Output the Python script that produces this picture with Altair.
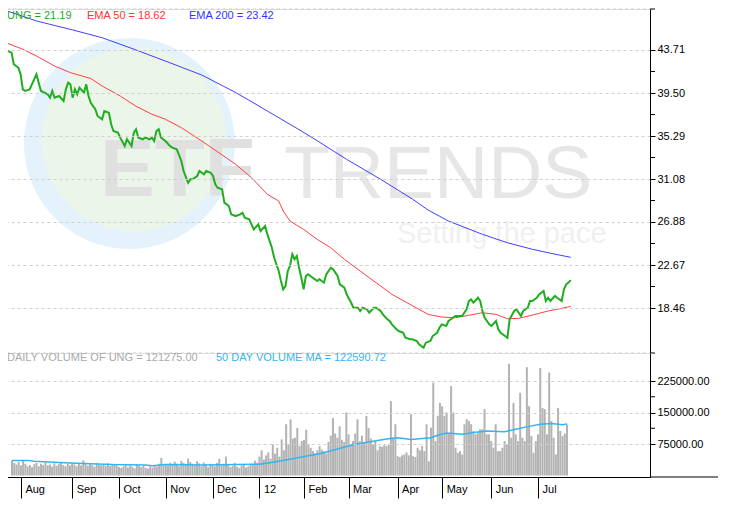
import altair as alt
import pandas as pd

# ---------------- data ----------------
# trading-day index (0 = late Jul 2011 ... 249 = ~20 Jul 2012)
price_day = [0, 2, 3, 4, 5, 6, 7, 8, 10, 11, 13, 14, 15, 18, 19, 20, 21, 23, 25, 26,
             27, 28, 29, 30, 31, 32, 34, 35, 36, 37, 39, 40, 42, 43, 45, 46, 47, 49, 50, 52,
             53, 55, 56, 57, 58, 60, 61, 63, 64, 65, 66, 67, 68, 70, 72, 73, 75, 77, 78, 80,
             81, 82, 84, 85, 87, 88, 90, 91, 92, 93, 95, 96, 98, 99, 101, 103, 104, 105, 107, 109,
             111, 112, 114, 115, 117, 118, 120, 121, 122, 123, 124, 125, 126, 127, 128, 129, 130, 131, 132, 133,
             134, 136, 137, 138, 140, 141, 143, 144, 146, 147, 149, 150, 152, 153, 155, 156, 157, 159, 160, 162,
             163, 165, 166, 168, 169, 170, 172, 173, 175, 176, 178, 179, 181, 182, 184, 185, 187, 188, 190, 191,
             192, 194, 195, 197, 198, 200, 201, 203, 204, 205, 206, 208, 209, 210, 211, 213, 214, 216, 217, 218,
             220, 221, 222, 224, 225, 227, 228, 230, 231, 232, 234, 235, 237, 238, 239, 240, 242, 243, 245, 246,
             247, 248, 249]
price_val = [43.68, 43.45, 42.31, 42.14, 41.98, 41.33, 39.86, 39.70, 39.86, 40.35, 41.33, 40.51, 39.70, 39.37, 39.04, 39.70, 39.04, 39.21, 38.72, 39.86,
             40.51, 40.35, 39.04, 39.86, 39.37, 40.02, 39.53, 40.35, 39.21, 38.55, 37.91, 37.25, 36.93, 37.74, 37.57, 36.44, 35.78, 35.62, 35.13, 34.31,
             34.97, 34.31, 35.62, 35.95, 35.13, 34.97, 35.13, 34.97, 35.13, 34.80, 35.78, 35.95, 35.13, 34.80, 34.31, 34.15, 33.99, 32.85, 31.87, 30.72,
             31.06, 31.06, 31.38, 31.87, 31.55, 31.87, 31.70, 31.38, 30.57, 30.23, 30.08, 28.77, 28.44, 27.63, 27.46, 27.63, 27.79, 27.30, 27.14, 26.16,
             26.65, 26.00, 26.49, 25.67, 24.36, 23.38, 22.08, 21.10, 20.29, 20.61, 22.08, 22.57, 23.72, 23.23, 23.55, 22.40, 21.42, 20.29, 21.59, 21.76,
             21.59, 21.27, 21.10, 21.27, 20.94, 21.76, 22.40, 22.25, 21.59, 20.78, 20.45, 19.80, 18.98, 18.49, 18.49, 18.17, 18.49, 18.33, 18.00, 18.49,
             18.49, 18.17, 17.84, 17.36, 17.19, 16.86, 16.38, 16.21, 16.04, 15.55, 15.40, 15.40, 15.23, 14.91, 14.58, 15.07, 15.23, 15.72, 16.04, 16.53,
             16.86, 16.70, 17.19, 17.51, 17.68, 17.68, 17.68, 18.33, 19.15, 19.31, 18.98, 19.47, 19.15, 18.17, 17.51, 16.86, 16.70, 17.19, 16.38, 16.04,
             15.72, 15.55, 17.36, 18.17, 18.33, 17.68, 18.17, 18.49, 19.15, 19.15, 19.47, 19.80, 20.12, 19.15, 19.47, 19.15, 19.64, 19.47, 19.15, 20.29,
             20.78, 20.95, 21.19]

ema50_day = [0, 7, 13, 21, 28, 37, 42, 50, 57, 64, 70, 77, 86, 93, 101, 108, 115, 120, 122, 125,
             131, 137, 143, 149, 156, 163, 170, 178, 186, 192, 198, 204, 210, 216, 221, 226, 232, 239, 245, 249]
ema50_val = [44.38, 43.78, 43.12, 42.14, 41.49, 40.92, 40.19, 39.21, 38.20, 37.42, 36.93, 36.11, 34.80, 33.75, 32.52, 31.21, 29.59, 28.93, 27.95, 26.97,
             26.16, 25.18, 24.36, 23.23, 22.08, 20.94, 19.80, 18.82, 17.84, 17.58, 17.51, 17.75, 18.00, 17.84, 17.41, 17.45, 17.77, 18.17, 18.43, 18.62]

ema200_day = [0, 13, 29, 42, 57, 71, 86, 101, 115, 130, 136, 150, 165, 179, 186, 195, 210, 221, 232, 239, 249]
ema200_val = [47.53, 46.55, 45.67, 44.91, 43.71, 42.54, 41.26, 39.55, 37.74, 35.78, 34.97, 33.01, 31.06, 29.13, 28.05, 26.97, 25.67, 24.85, 24.21, 23.87, 23.42]

# daily volume, thousands of shares, one value per trading day 0..249
vol_k = [35, 30, 26, 32, 24, 37, 28, 22, 25, 20, 27, 30, 22, 28, 25, 31, 24, 26, 21, 29, 23, 27, 32, 25, 22, 28, 24, 30,
         26, 22, 29, 24, 36, 27, 23, 28, 25, 21, 30, 26, 24, 27, 23, 29, 22, 25, 28, 24, 20,
         18, 22, 25, 19, 24, 21, 17, 26, 23, 20, 24, 18, 16, 22, 19, 25, 21, 28, 42, 24,
         27, 23, 30, 26, 33, 28, 22, 35, 30, 25, 40, 32, 28, 24, 34, 29, 22, 31, 26, 20, 28,
         25, 22, 30, 40, 24, 28, 45, 26, 20, 23, 30, 21, 18, 24, 26, 19, 22, 28, 25, 35, 30,
         45, 60, 38, 48, 55, 40, 74, 52, 66, 45, 86, 60, 122, 75, 134, 88, 90, 113, 70, 82,
         85, 109, 75, 66, 58, 53, 60, 70, 62, 58, 53, 80, 95, 137, 100, 90, 117, 85, 80, 150, 98,
         75, 82, 100, 134, 82, 95, 78, 142, 113, 88, 75, 82, 60, 70, 68, 72, 70, 74, 177, 90,
         122, 46, 44, 48, 50, 55, 48, 146, 46, 44, 66, 60, 70, 58, 122, 34, 114, 221, 82, 142, 173,
         165, 142, 150, 100, 213, 150, 66, 54, 58, 50, 122, 134, 130, 122, 106, 98, 102, 110, 110, 158, 98,
         98, 82, 66, 122, 58, 58, 66, 82, 74, 266, 90, 173, 98, 82, 197, 90, 82, 258, 165, 94, 54,
         82, 98, 256, 161, 158, 98, 245, 130, 90, 50, 161, 106, 94, 100, 121.275]

volma_day = [0, 7, 10, 21, 35, 45, 60, 63, 69, 86, 101, 111, 115, 121, 130, 138, 144, 153, 160, 168,
             173, 179, 188, 191, 195, 202, 208, 213, 221, 226, 232, 237, 242, 247, 249]
volma_k = [36, 36, 34, 31, 28, 26, 25, 23, 26, 25, 26, 27, 30, 35, 44, 52, 60, 73, 80, 87,
           90, 86, 90, 96, 101, 98, 103, 106, 104, 110, 117, 122, 124, 121, 122.59072]

month_pos = [4, 27, 48, 69, 90, 111, 131, 151, 173, 193, 215, 236]
month_lbl = ["Aug", "Sep", "Oct", "Nov", "Dec", "12", "Feb", "Mar", "Apr", "May", "Jun", "Jul"]

price_ticks = [18.46, 22.67, 26.88, 31.08, 35.29, 39.50, 43.71]
vol_ticks = [75000, 150000, 225000]

legend_text = ["UNG = 21.19", "EMA 50 = 18.62", "EMA 200 = 23.42"]
vol_text = ["DAILY VOLUME OF UNG = 121275.00", "50 DAY VOLUME MA = 122590.72"]
watermark_text = ["ETF", "TRENDS", "Setting the pace"]

# ---------------- layout ----------------
W, H1, H2 = 643, 344, 124
P_MIN, P_MAX = 14.06, 47.72
V_MIN, V_MAX = -3571, 291667
FONT = "Liberation Sans"
GRID = "#cfcfcf"

df_price = pd.DataFrame({"i": price_day, "v": price_val})
df_e50 = pd.DataFrame({"i": ema50_day, "v": ema50_val})
df_e200 = pd.DataFrame({"i": ema200_day, "v": ema200_val})
df_vol = pd.DataFrame({"i": list(range(len(vol_k))), "v": [k * 1000 for k in vol_k]})
df_vma = pd.DataFrame({"i": volma_day, "v": [k * 1000 for k in volma_k]})
p_minor = [(a + b) / 2 for a, b in zip(price_ticks[:-1], price_ticks[1:])]
v_minor = [(a + b) / 2 for a, b in zip(vol_ticks[:-1], vol_ticks[1:])]
df_ptick = pd.DataFrame({"v": p_minor + [P_MIN, P_MAX]})
df_pedge = pd.DataFrame({"v": [P_MIN, P_MAX]})
df_vtick = pd.DataFrame({"v": v_minor})

xs = alt.Scale(domain=[0, 284], nice=False, zero=False)
ys = alt.Scale(domain=[P_MIN, P_MAX], nice=False, zero=False)
vs = alt.Scale(domain=[V_MIN, V_MAX], nice=False, zero=False)

common_axis = dict(orient="right", tickSize=5, tickColor="#000", domainColor="#000",
                   labelColor="#000", labelFontSize=11, labelFont=FONT, labelPadding=2,
                   grid=True, gridColor=GRID, gridDash=[3, 3], title=None,
                   labelOverlap=False, zindex=1, format=".2f")
yax = alt.Axis(values=price_ticks, **common_axis)
vax = alt.Axis(values=vol_ticks, **common_axis)

lbl_arr = "[" + ",".join("'%s'" % m for m in month_lbl) + "]"
pos_arr = "[" + ",".join(str(p) for p in month_pos) + "]"
xax = alt.Axis(values=month_pos, labelExpr=lbl_arr + "[indexof(" + pos_arr + ", datum.value)]",
               tickSize=21, tickColor="#000", domainColor="#000", labelColor="#000",
               labelFontSize=11, labelFont=FONT, labelAlign="left", labelBaseline="middle",
               labelPadding=-9, labelOffset=4, grid=False, title=None, labelOverlap=False,
               labelFlush=False)

one = pd.DataFrame({"t": [""]})


def txt(s, x, y, color, size=11, weight="normal", baseline="middle"):
    return alt.Chart(pd.DataFrame({"t": [s]})).mark_text(
        align="left", baseline=baseline, fontSize=size, font=FONT, fontWeight=weight, color=color
    ).encode(x=alt.value(x), y=alt.value(y), text="t:N")


X = alt.X("i:Q", scale=xs, axis=None)
YP = alt.Y("v:Q", scale=ys, axis=yax)
YV = alt.Y("v:Q", scale=vs, axis=vax)

# watermark (Vega symbol size = (2r)^2)
wm_outer = alt.Chart(one).mark_circle(color="#e4f2fb", opacity=1, size=44521).encode(
    x=alt.value(122.5), y=alt.value(134.5))
wm_inner = alt.Chart(one).mark_circle(color="#ebf5e9", opacity=1, size=33856).encode(
    x=alt.value(127), y=alt.value(130.5))
wm1 = txt(watermark_text[0], 93, 187, "#e0e0e0", size=82, weight="bold", baseline="alphabetic")
wm2 = txt(watermark_text[1], 277, 189, "#e6e6e6", size=75, baseline="alphabetic")
wm3 = txt(watermark_text[2], 390, 234, "#f0f0f0", size=29, baseline="alphabetic")

edge_grid = alt.Chart(df_pedge).mark_rule(color=GRID, strokeDash=[3, 3]).encode(
    y=YP, x=alt.value(0), x2=alt.value(W))
ema200_line = alt.Chart(df_e200).mark_line(color="#4040ff", strokeWidth=1).encode(x=X, y=YP)
ema50_line = alt.Chart(df_e50).mark_line(color="#ff4040", strokeWidth=1).encode(x=X, y=YP)
price_line = alt.Chart(df_price).mark_line(color="#1fae1f", strokeWidth=2).encode(x=X, y=YP)
p_extra_ticks = alt.Chart(df_ptick).mark_rule(color="#000").encode(
    y=YP, x=alt.value(W), x2=alt.value(W + 5))

price_panel = alt.layer(
    wm_outer, wm_inner, wm1, wm2, wm3, edge_grid,
    ema200_line, ema50_line, price_line, p_extra_ticks,
    txt(legend_text[0], 0, 7, "#22aa22"),
    txt(legend_text[1], 80, 7, "#ff3333"),
    txt(legend_text[2], 182, 7, "#3333ff"),
).properties(width=W, height=H1)

XV = alt.X("i:Q", scale=xs, axis=xax)
bars = alt.Chart(df_vol).mark_bar(color="#b3b3b3", size=2).encode(x=XV, y=YV)
vma_line = alt.Chart(df_vma).mark_line(color="#33b5f0", strokeWidth=1.5).encode(x=XV, y=YV)
v_minor_ticks = alt.Chart(df_vtick).mark_rule(color="#000").encode(
    y=YV, x=alt.value(W), x2=alt.value(W + 5))
base_ext = alt.Chart(one).mark_rule(color="#000").encode(
    x=alt.value(W), x2=alt.value(W + 68), y=alt.value(H2))

volume_panel = alt.layer(
    bars, vma_line, v_minor_ticks, base_ext,
    txt(vol_text[0], 0, 5, "#aaaaaa"),
    txt(vol_text[1], 209, 5, "#33b5f0"),
).properties(width=W, height=H2)

chart = alt.vconcat(price_panel, volume_panel, spacing=0).properties(
    bounds="flush",
    padding={"left": -6, "top": 0, "right": 0, "bottom": 0}
).configure_view(stroke=None).configure(font=FONT)

chart.save("out.html", embed_options={"renderer": "svg", "actions": False})
